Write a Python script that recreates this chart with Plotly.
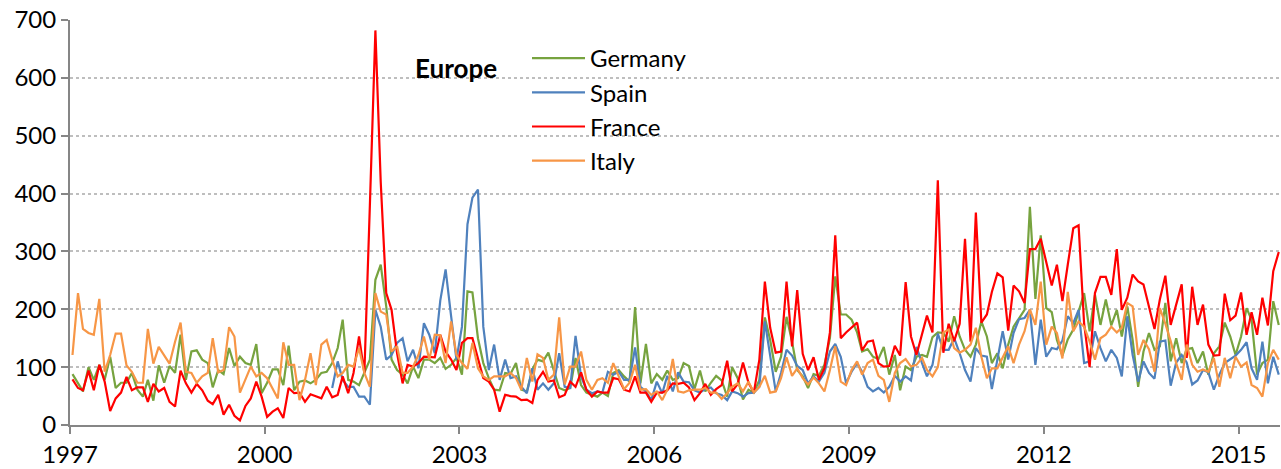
import pandas as pd
import plotly.graph_objects as go

# Monthly observations, Jan 1997 .. Aug 2015 (224 months)
months = pd.date_range("1997-01-01", periods=224, freq="MS") + pd.Timedelta(days=14)

germany = [88, 72, 58, 100, 78, 104, 78, 118, 64, 73, 73, 90, 61, 49, 78, 42, 103, 73, 102, 90, 156, 78,
           127, 129, 113, 107, 65, 95, 88, 133, 102, 118, 107, 104, 140, 55, 73, 96, 96, 69, 137, 60, 75, 77,
           72, 78,
           90, 92, 107, 133, 182, 78, 75, 69, 92, 113, 251, 277, 205, 113, 95, 87, 72, 101, 81, 113, 113, 107, 116,
           97, 104, 116, 87, 231, 229, 150, 107, 81, 61, 60, 90, 88, 107, 61, 58, 96, 113, 110, 125, 95, 64, 60,
           64, 116, 69, 56, 52, 49, 56, 50, 90, 95, 84, 75, 204, 72, 140, 72, 88, 78, 94, 78, 81, 107, 102,
           62, 94, 58, 73, 85, 77, 49, 100, 81, 44, 61, 56, 78, 186, 147, 92, 118, 187, 144, 95, 84, 64, 88,
           85, 104, 150, 257, 191, 191, 182, 160, 127, 131, 118, 114, 135, 87, 121, 60, 101, 95, 118, 121, 118, 152, 160,
           159, 144, 188, 153, 130, 118, 139, 179, 153, 107, 124, 98, 139, 170, 185, 199, 377, 218, 328, 202, 195, 147, 120, 148,
           165, 196, 228, 162, 225, 173, 217, 172, 199, 153, 205, 147, 66, 127, 159, 130, 136, 211, 110, 150, 107, 131, 133,
           107, 127, 87, 124, 136, 177, 153, 121, 153, 202, 182, 87, 107, 113, 214, 173]

spain = [None] * 48 + [
           64, 110, 78, 66, 66, 49, 49, 35, 199, 170, 113, 121, 142, 150, 110, 130, 98, 176, 156, 124, 215,
           269, 188, 113, 170, 347, 393, 407, 170, 95, 139, 78, 113, 81, 84, 66, 55, 98, 61, 72, 61, 72, 124, 66,
           64, 154, 84, 61, 55, 58, 56, 92, 87, 92, 78, 78, 134, 66, 58, 43, 75, 55, 85, 58, 91, 75, 74,
           60, 56, 62, 65, 55, 52, 43, 58, 55, 49, 55, 56, 66, 179, 118, 58, 90, 130, 120, 102, 95, 72, 84,
           75, 90, 127, 140, 118, 72, 92, 107, 92, 66, 58, 64, 56, 66, 85, 75, 84, 77, 135, 107, 84, 104, 158,
           130, 130, 150, 124, 95, 75, 133, 120, 118, 62, 113, 162, 113, 159, 183, 185, 199, 104, 182, 118, 133, 131, 146, 188,
           176, 199, 107, 110, 162, 133, 110, 130, 116, 84, 188, 121, 75, 110, 90, 80, 144, 146, 68, 108, 121, 108, 70,
           77, 95, 91, 61, 87, 107, 113, 120, 130, 143, 98, 78, 144, 72, 118, 87]

france = [79, 64, 60, 94, 60, 104, 75, 24, 46, 56, 83, 60, 65, 65, 40, 71, 58, 64, 40, 32, 94, 72,
          56, 71, 60, 42, 36, 52, 18, 35, 16, 8, 33, 46, 75, 49, 14, 23, 29, 12, 64, 55, 56, 40,
          53, 49,
          46, 66, 48, 52, 84, 55, 90, 153, 90, 380, 682, 420, 228, 199, 124, 72, 104, 101, 107, 118, 118, 117, 156,
          127, 113, 95, 142, 150, 150, 113, 81, 75, 61, 23, 52, 50, 49, 43, 44, 38, 78, 92, 75, 77, 48, 52,
          75, 66, 91, 61, 49, 58, 56, 56, 81, 79, 61, 58, 84, 56, 56, 40, 56, 56, 60, 72, 71, 73, 65,
          43, 55, 71, 52, 62, 69, 111, 58, 71, 108, 73, 56, 113, 248, 168, 125, 127, 248, 136, 233, 123, 95, 117,
          78, 98, 160, 328, 150, 160, 169, 177, 129, 144, 146, 107, 101, 102, 137, 120, 247, 153, 121, 158, 189, 160, 423,
          125, 175, 145, 175, 322, 144, 367, 177, 191, 230, 262, 255, 163, 241, 231, 211, 304, 304, 322, 280, 241, 277, 214, 277,
          340, 345, 175, 100, 228, 256, 256, 225, 304, 199, 220, 260, 248, 243, 205, 166, 217, 258, 173, 208, 243, 116, 239,
          173, 208, 139, 120, 121, 227, 181, 189, 229, 156, 195, 156, 220, 172, 266, 299]

italy = [121, 228, 166, 159, 156, 218, 92, 121, 158, 158, 103, 92, 73, 73, 166, 106, 135, 121, 106, 144, 177, 92,
         90, 73, 84, 90, 150, 91, 95, 169, 153, 56, 78, 101, 84, 90, 81, 64, 46, 143, 104, 104, 43, 78,
         124, 69,
         139, 147, 113, 84, 90, 104, 101, 133, 90, 66, 228, 196, 191, 127, 136, 90, 90, 101, 121, 153, 113, 156, 155,
         107, 179, 121, 107, 97, 142, 98, 84, 78, 84, 84, 84, 90, 81, 61, 116, 75, 122, 116, 78, 87, 186, 70,
         101, 101, 127, 78, 61, 78, 81, 73, 107, 84, 62, 73, 104, 61, 62, 52, 58, 43, 61, 114, 58, 56, 60,
         61, 61, 64, 56, 56, 45, 55, 66, 72, 58, 75, 56, 66, 85, 56, 58, 81, 117, 85, 98, 81, 70, 82,
         72, 58, 95, 136, 75, 69, 95, 110, 87, 107, 113, 85, 78, 40, 90, 107, 114, 101, 104, 116, 95, 84, 100,
         160, 165, 133, 125, 130, 139, 168, 118, 81, 98, 98, 116, 136, 107, 139, 162, 200, 173, 248, 139, 170, 159, 115, 230,
         162, 179, 170, 144, 113, 150, 156, 170, 160, 168, 211, 205, 121, 147, 131, 92, 202, 175, 145, 107, 78, 139, 104,
         92, 96, 92, 116, 66, 116, 81, 118, 101, 108, 69, 64, 49, 107, 130, 113]

series_names = ["Germany", "Spain", "France", "Italy"]
series_values = [germany, spain, france, italy]
series_colors = ["#77A33F", "#4F81BD", "#FF0000", "#F79646"]

y_ticks = [0, 100, 200, 300, 400, 500, 600, 700]
x_tick_years = ["1997", "2000", "2003", "2006", "2009", "2012", "2015"]

FONT = "Lato, 'Open Sans', sans-serif"

W, H = 1281, 469
ML, MR, MT, MB = 70, 1, 20, 44
pw = W - ML - MR
ph = H - MT - MB

fig = go.Figure()
for name, vals, col in zip(series_names, series_values, series_colors):
    fig.add_trace(go.Scatter(x=months, y=vals, name=name, mode="lines",
                             line=dict(color=col, width=2.2), connectgaps=False))

fig.update_layout(
    width=W, height=H,
    margin=dict(l=ML, r=MR, t=MT, b=MB),
    paper_bgcolor="white", plot_bgcolor="white",
    font=dict(family=FONT, size=24, color="#000000"),
    showlegend=True,
    legend=dict(x=(527 - ML) / pw, y=(425 - 36) / ph, xanchor="left", yanchor="top",
                font=dict(family=FONT, size=24, color="#000000"),
                bgcolor="rgba(0,0,0,0)", tracegroupgap=0, itemwidth=53),
    annotations=[dict(text="<b>Europe</b>", x=(456 - ML) / pw, y=(425 - 68) / ph,
                      xref="paper", yref="paper", xanchor="center", yanchor="middle",
                      showarrow=False, font=dict(family=FONT, size=26, color="#000000"))],
)

fig.update_xaxes(
    type="date",
    range=["1997-01-01", "2015-08-22"],
    tickvals=[pd.Timestamp(y + "-01-01") for y in x_tick_years],
    ticktext=x_tick_years,
    showgrid=False, zeroline=False,
    showline=True, linecolor="#868686", linewidth=2,
    ticks="outside", ticklen=7, tickwidth=2, tickcolor="#868686",
    tickfont=dict(family=FONT, size=24, color="#000000"),
)
fig.update_yaxes(
    range=[0, 700],
    tickvals=y_ticks,
    showgrid=True, gridcolor="#BEBEBE", griddash="dot", gridwidth=2,
    zeroline=False,
    showline=True, linecolor="#868686", linewidth=2,
    ticks="outside", ticklen=7, tickwidth=2, tickcolor="#868686",
    tickfont=dict(family=FONT, size=24, color="#000000"),
)

fig.write_html("out.html", config={"displayModeBar": False},
               post_script="document.body.style.margin='0';document.body.style.overflow='hidden';")
